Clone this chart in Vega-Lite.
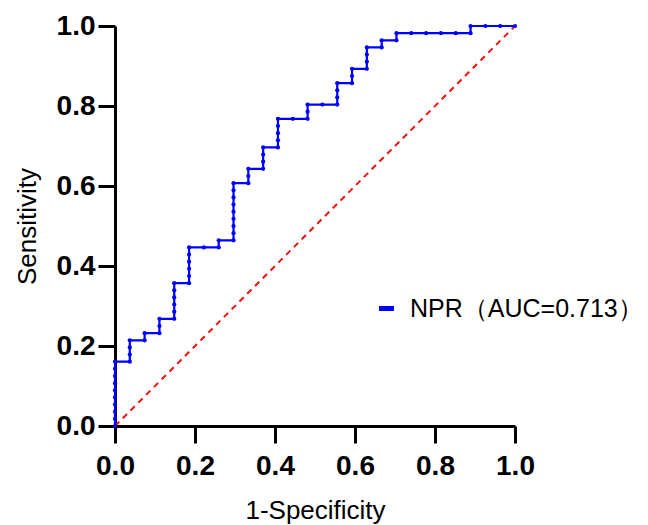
{
  "$schema": "https://vega.github.io/schema/vega-lite/v6.json",
  "width": 400,
  "height": 400,
  "autosize": {"type": "none"},
  "padding": {"left": 115, "top": 26, "right": 133, "bottom": 99},
  "background": "white",
  "config": {
    "view": {"stroke": null},
    "axis": {
      "grid": false,
      "labelFlush": false,
      "labelOverlap": false,
      "domainColor": "black",
      "domainWidth": 3,
      "tickColor": "black",
      "tickWidth": 3,
      "tickSize": 17,
      "labelFont": "Liberation Sans",
      "labelFontWeight": "bold",
      "labelFontSize": 28,
      "labelColor": "black",
      "titleFont": "Liberation Sans",
      "titleFontWeight": "normal",
      "titleFontSize": 26,
      "titleColor": "black"
    }
  },
  "datasets": {
    "roc": [
      {"i":1,"fpr":0,"tpr":0},{"i":2,"fpr":0,"tpr":0.0179},{"i":3,"fpr":0,"tpr":0.0357},{"i":4,"fpr":0,"tpr":0.0536},{"i":5,"fpr":0,"tpr":0.0714},{"i":6,"fpr":0,"tpr":0.0893},{"i":7,"fpr":0,"tpr":0.1071},{"i":8,"fpr":0,"tpr":0.125},{"i":9,"fpr":0,"tpr":0.1429},{"i":10,"fpr":0,"tpr":0.1607},
      {"i":11,"fpr":0.037,"tpr":0.1607},{"i":12,"fpr":0.037,"tpr":0.1786},{"i":13,"fpr":0.037,"tpr":0.1964},{"i":14,"fpr":0.037,"tpr":0.2143},
      {"i":15,"fpr":0.0741,"tpr":0.2143},{"i":16,"fpr":0.0741,"tpr":0.2321},
      {"i":17,"fpr":0.1111,"tpr":0.2321},{"i":18,"fpr":0.1111,"tpr":0.25},{"i":19,"fpr":0.1111,"tpr":0.2679},
      {"i":20,"fpr":0.1481,"tpr":0.2679},{"i":21,"fpr":0.1481,"tpr":0.2857},{"i":22,"fpr":0.1481,"tpr":0.3036},{"i":23,"fpr":0.1481,"tpr":0.3214},{"i":24,"fpr":0.1481,"tpr":0.3393},{"i":25,"fpr":0.1481,"tpr":0.3571},
      {"i":26,"fpr":0.1852,"tpr":0.3571},{"i":27,"fpr":0.1852,"tpr":0.375},{"i":28,"fpr":0.1852,"tpr":0.3929},{"i":29,"fpr":0.1852,"tpr":0.4107},{"i":30,"fpr":0.1852,"tpr":0.4286},{"i":31,"fpr":0.1852,"tpr":0.4464},
      {"i":32,"fpr":0.2222,"tpr":0.4464},
      {"i":33,"fpr":0.2593,"tpr":0.4464},{"i":34,"fpr":0.2593,"tpr":0.4643},
      {"i":35,"fpr":0.2963,"tpr":0.4643},{"i":36,"fpr":0.2963,"tpr":0.4821},{"i":37,"fpr":0.2963,"tpr":0.5},{"i":38,"fpr":0.2963,"tpr":0.5179},{"i":39,"fpr":0.2963,"tpr":0.5357},{"i":40,"fpr":0.2963,"tpr":0.5536},{"i":41,"fpr":0.2963,"tpr":0.5714},{"i":42,"fpr":0.2963,"tpr":0.5893},{"i":43,"fpr":0.2963,"tpr":0.6071},
      {"i":44,"fpr":0.3333,"tpr":0.6071},{"i":45,"fpr":0.3333,"tpr":0.625},{"i":46,"fpr":0.3333,"tpr":0.6429},
      {"i":47,"fpr":0.3704,"tpr":0.6429},{"i":48,"fpr":0.3704,"tpr":0.6607},{"i":49,"fpr":0.3704,"tpr":0.6786},{"i":50,"fpr":0.3704,"tpr":0.6964},
      {"i":51,"fpr":0.4074,"tpr":0.6964},{"i":52,"fpr":0.4074,"tpr":0.7143},{"i":53,"fpr":0.4074,"tpr":0.7321},{"i":54,"fpr":0.4074,"tpr":0.75},{"i":55,"fpr":0.4074,"tpr":0.7679},
      {"i":56,"fpr":0.4444,"tpr":0.7679},
      {"i":57,"fpr":0.4815,"tpr":0.7679},{"i":58,"fpr":0.4815,"tpr":0.7857},{"i":59,"fpr":0.4815,"tpr":0.8036},
      {"i":60,"fpr":0.5185,"tpr":0.8036},
      {"i":61,"fpr":0.5556,"tpr":0.8036},{"i":62,"fpr":0.5556,"tpr":0.8214},{"i":63,"fpr":0.5556,"tpr":0.8393},{"i":64,"fpr":0.5556,"tpr":0.8571},
      {"i":65,"fpr":0.5926,"tpr":0.8571},{"i":66,"fpr":0.5926,"tpr":0.875},{"i":67,"fpr":0.5926,"tpr":0.8929},
      {"i":68,"fpr":0.6296,"tpr":0.8929},{"i":69,"fpr":0.6296,"tpr":0.9107},{"i":70,"fpr":0.6296,"tpr":0.9286},{"i":71,"fpr":0.6296,"tpr":0.9464},
      {"i":72,"fpr":0.6667,"tpr":0.9464},{"i":73,"fpr":0.6667,"tpr":0.9643},
      {"i":74,"fpr":0.7037,"tpr":0.9643},{"i":75,"fpr":0.7037,"tpr":0.9821},
      {"i":76,"fpr":0.7407,"tpr":0.9821},{"i":77,"fpr":0.7778,"tpr":0.9821},{"i":78,"fpr":0.8148,"tpr":0.9821},{"i":79,"fpr":0.8519,"tpr":0.9821},
      {"i":80,"fpr":0.8889,"tpr":0.9821},{"i":81,"fpr":0.8889,"tpr":1},
      {"i":82,"fpr":0.9259,"tpr":1},{"i":83,"fpr":0.963,"tpr":1},{"i":84,"fpr":1,"tpr":1}
    ],
    "diag": [{"fpr":0,"tpr":0},{"fpr":1,"tpr":1}]
  },
  "encoding": {
    "x": {"field": "fpr", "type": "quantitative", "scale": {"domain": [0, 1], "nice": false, "zero": false},
          "axis": {"values": [0, 0.2, 0.4, 0.6, 0.8, 1], "format": ".1f", "title": "1-Specificity", "labelPadding": 9, "titlePadding": 17}},
    "y": {"field": "tpr", "type": "quantitative", "scale": {"domain": [0, 1], "nice": false, "zero": false},
          "axis": {"values": [0, 0.2, 0.4, 0.6, 0.8, 1], "format": ".1f", "title": "Sensitivity", "labelPadding": 3, "titlePadding": 16}}
  },
  "layer": [
    {
      "data": {"name": "diag"},
      "mark": {"type": "line", "color": "#f01010", "strokeWidth": 2, "strokeDash": [6, 5]},
      "encoding": {}
    },
    {
      "data": {"name": "roc"},
      "mark": {"type": "line", "strokeWidth": 2.2},
      "encoding": {
        "order": {"field": "i", "type": "quantitative"},
        "color": {"datum": "NPR（AUC=0.713）", "type": "nominal",
                  "scale": {"range": ["#0000ff"]},
                  "legend": {"title": null, "orient": "none", "legendX": 259, "legendY": 270,
                             "symbolType": "stroke", "symbolSize": 225, "symbolStrokeWidth": 5,
                             "labelFont": "Liberation Sans", "labelFontSize": 25, "labelColor": "black",
                             "labelOffset": 11, "labelLimit": 400}}
      }
    },
    {
      "data": {"name": "roc"},
      "mark": {"type": "circle", "size": 18, "opacity": 1, "color": "#0000ff"},
      "encoding": {}
    }
  ]
}
